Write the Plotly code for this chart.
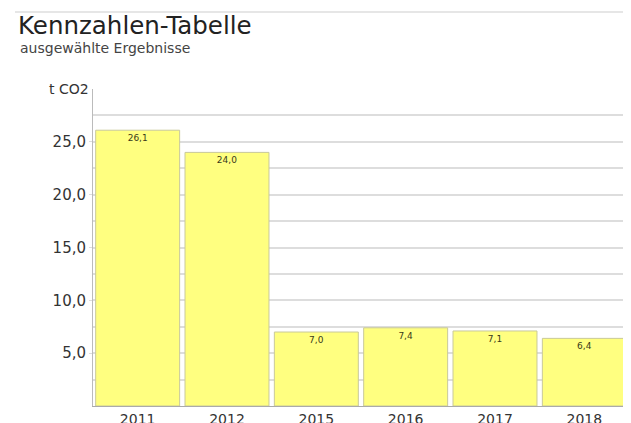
import plotly.graph_objects as go

years = ["2011", "2012", "2015", "2016", "2017", "2018"]
values = [26.1, 24.0, 7.0, 7.4, 7.1, 6.4]
y_ticks = [5, 10, 15, 20, 25]
y_tick_labels = ["5,0", "10,0", "15,0", "20,0", "25,0"]

# page body has an 8px margin, so the figure is sized/offset to compensate
W, H = 623, 415
L, R, T, B = 85, 2, 81, 17
pw = W - L - R
ph = H - T - B

fig = go.Figure(go.Bar(
    x=years, y=values,
    marker=dict(color="#ffff80", line=dict(color="#c9c99a", width=1)),
    texttemplate="%{y:.1f}", textposition="inside", insidetextanchor="end",
    textfont=dict(size=9, color="#3a3a1a", family="DejaVu Sans"),
    textangle=0,
))

fig.update_layout(
    width=W, height=H,
    margin=dict(l=L, r=R, t=T, b=B, autoexpand=False),
    paper_bgcolor="white", plot_bgcolor="white",
    separators=",.",
    bargap=0.06,
    font=dict(family="DejaVu Sans", color="#333333", size=14),
    showlegend=False,
    title=dict(text="Kennzahlen-Tabelle", x=10 / W, xanchor="left", xref="container",
               y=1 - 17 / H, yanchor="middle", yref="container",
               font=dict(size=24.5, color="#222222", family="DejaVu Sans")),
    annotations=[
        dict(text="ausgewählte Ergebnisse", xref="paper", yref="paper",
             x=(10 - L) / pw, y=(H - B - 40) / ph, xanchor="left", yanchor="middle",
             showarrow=False, font=dict(size=14, color="#444444")),
        dict(text="t CO2", xref="paper", yref="y", x=-0.004, y=30, xanchor="right",
             yanchor="middle", showarrow=False, font=dict(size=14, color="#333333")),
    ],
    shapes=[
        dict(type="line", xref="paper", yref="paper", x0=(7 - L) / pw, x1=1 + R / pw,
             y0=(H - B - 4) / ph, y1=(H - B - 4) / ph,
             line=dict(color="#e6e6e6", width=2)),
    ],
)

fig.update_xaxes(
    showgrid=False, showline=True, linecolor="#aaaaaa", linewidth=1, automargin=False,
    tickfont=dict(size=14, color="#333333"), ticks="", ticklen=0, ticklabelstandoff=0,
    fixedrange=True,
)
fig.update_yaxes(
    range=[0, 30], tickvals=y_ticks, ticktext=y_tick_labels, automargin=False,
    showgrid=True, gridcolor="#dddddd", gridwidth=2,
    minor=dict(tick0=0, dtick=2.5, showgrid=True, gridcolor="#dddddd", gridwidth=2),
    showline=True, linecolor="#bbbbbb", linewidth=1, mirror=False,
    ticks="outside", ticklen=3, tickcolor="#dddddd",
    zeroline=False, tickfont=dict(size=15, color="#333333"),
)

fig.write_html("out.html")
